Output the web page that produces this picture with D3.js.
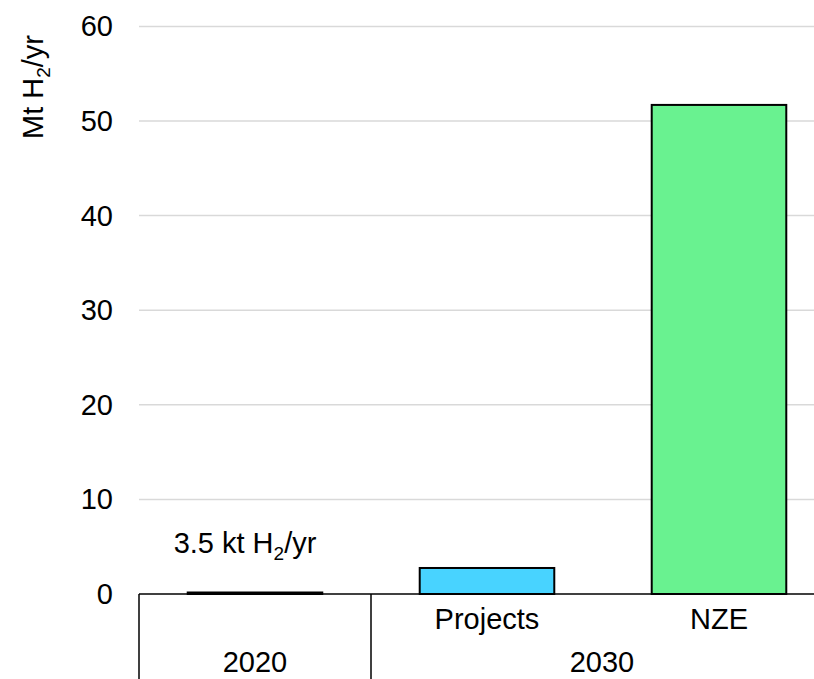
<!DOCTYPE html>
<html><head><meta charset="utf-8">
<script src="https://cdn.jsdelivr.net/npm/d3@7"></script>
<style>body{margin:0;background:#fff}svg{display:block;font-family:"Liberation Sans",Arial,sans-serif}</style>
</head><body>
<script>
const categories = ["2020", "Projects", "NZE"];
const subLabels = ["", "Projects", "NZE"];
const groups = [{label:"2020", from:0, to:0}, {label:"2030", from:1, to:2}];
const values = [0.0035, 2.75, 51.7];
const colors = ["#000000", "#48d3ff", "#69f290"];
const yTicks = [0, 10, 20, 30, 40, 50, 60];

const W = 814, H = 679;
const FS = 29;
const svg = d3.select("body").append("svg").attr("width", W).attr("height", H);

const x = d3.scaleBand().domain(categories).range([139, 835]).paddingInner(0.42).paddingOuter(0.21);
const y = d3.scaleLinear().domain([0, 60]).range([594, 26.4]);

// gridlines
svg.append("g").selectAll("line").data(yTicks.filter(d => d > 0)).join("line")
  .attr("x1", 139).attr("x2", 835).attr("y1", d => y(d)).attr("y2", d => y(d))
  .attr("stroke", "#d9d9d9").attr("stroke-width", 1.5);

// y tick labels
svg.append("g").selectAll("text").data(yTicks).join("text")
  .attr("x", 113).attr("y", d => y(d) + 10).attr("text-anchor", "end")
  .attr("font-size", FS).attr("fill", "#000").text(d => d);

// y axis title
const yt = svg.append("text").attr("transform", "translate(43,87) rotate(-90)")
  .attr("text-anchor", "middle").attr("font-size", FS).attr("fill", "#000");
yt.append("tspan").text("Mt H");
yt.append("tspan").attr("font-size", 19).attr("dy", 7).text("2");
yt.append("tspan").attr("dy", -7).text("/yr");

// bars
svg.append("g").selectAll("rect").data(values).join("rect")
  .attr("x", (d, i) => x(categories[i])).attr("width", x.bandwidth())
  .attr("y", d => Math.min(y(d), y(0) - 1.5)).attr("height", d => Math.max(y(0) - y(d), 1.5))
  .attr("fill", (d, i) => colors[i]).attr("stroke", "#000").attr("stroke-width", 2);

// annotation
const an = svg.append("text").attr("x", x("2020") + x.bandwidth() / 2 - 10).attr("y", 553)
  .attr("text-anchor", "middle").attr("font-size", FS).attr("fill", "#000");
an.append("tspan").text("3.5 kt H");
an.append("tspan").attr("font-size", 19).attr("dy", 7).text("2");
an.append("tspan").attr("dy", -7).text("/yr");

// x axis line
svg.append("line").attr("x1", 139).attr("x2", 835).attr("y1", 594).attr("y2", 594)
  .attr("stroke", "#000").attr("stroke-width", 1.5);

// category labels
svg.append("g").selectAll("text").data(subLabels).join("text")
  .attr("x", (d, i) => x(categories[i]) + x.bandwidth() / 2).attr("y", 629)
  .attr("text-anchor", "middle").attr("font-size", FS).attr("fill", "#000").text(d => d);

// group separators and labels
const step = x.step();
const start = x.range()[0];
const bounds = groups.map(g => [start + g.from * step, start + (g.to + 1) * step]);
svg.append("g").selectAll("line").data([bounds[0][0], bounds[0][1], bounds[1][1]]).join("line")
  .attr("x1", d => d).attr("x2", d => d).attr("y1", 594).attr("y2", 679)
  .attr("stroke", "#000").attr("stroke-width", 1.5);
svg.append("g").selectAll("text").data(groups).join("text")
  .attr("x", (g, i) => (bounds[i][0] + bounds[i][1]) / 2 - (i === 1 ? 1 : 0)).attr("y", 672)
  .attr("text-anchor", "middle").attr("font-size", FS).attr("fill", "#000").text(g => g.label);
</script>
</body></html>
